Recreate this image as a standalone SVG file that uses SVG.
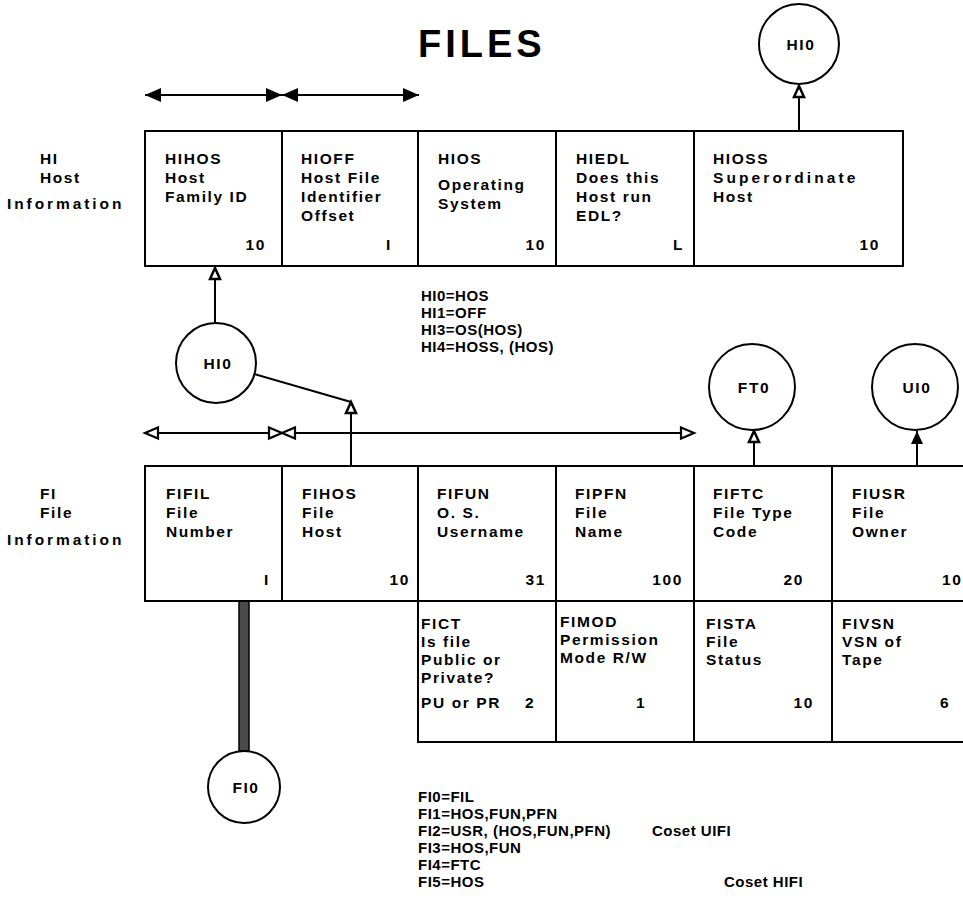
<svg xmlns="http://www.w3.org/2000/svg" width="963" height="922" viewBox="0 0 963 922">
<style>
.t{font-family:"Liberation Sans",Arial,Helvetica,sans-serif;font-weight:bold;font-size:15.5px;letter-spacing:1.6px;fill:#000}
.f{font-family:"Liberation Sans",Arial,Helvetica,sans-serif;font-weight:bold;font-size:15px;letter-spacing:0.5px;fill:#000}
.e{text-anchor:end}
.ttl{font-family:"Liberation Sans",Arial,Helvetica,sans-serif;font-weight:bold;font-size:38px;letter-spacing:4px;fill:#000}
.box{fill:#fff;stroke:#000;stroke-width:2}
.ln{stroke:#000;stroke-width:2;fill:none}
.c{fill:#fff;stroke:#000;stroke-width:2}
.m{text-anchor:middle}
</style>
<defs>
<marker id="solidL" viewBox="0 0 16 14" refX="16" refY="7" markerWidth="16" markerHeight="14" markerUnits="userSpaceOnUse" orient="auto-start-reverse"><path d="M0,0 L16,7 L0,14 z" fill="#000"/></marker>
<marker id="hollowL" viewBox="0 0 15 13" refX="14" refY="6.5" markerWidth="15" markerHeight="13" markerUnits="userSpaceOnUse" orient="auto-start-reverse" overflow="visible"><path d="M1,1 L14,6.5 L1,12 z" fill="#fff" stroke="#000" stroke-width="2.2"/></marker>
<marker id="hollowS" viewBox="0 0 13 12" refX="12" refY="6" markerWidth="13" markerHeight="12" markerUnits="userSpaceOnUse" orient="auto" overflow="visible"><path d="M1,1 L12,6 L1,11 z" fill="#fff" stroke="#000" stroke-width="2.5"/></marker>
<marker id="solidS" viewBox="0 0 13 12" refX="13" refY="6" markerWidth="13" markerHeight="12" markerUnits="userSpaceOnUse" orient="auto"><path d="M0,0 L13,6 L0,12 z" fill="#000"/></marker>
</defs>
<rect width="963" height="922" fill="#fff"/>
<text class="ttl" x="418" y="57">FILES</text>

<g id="labels">
<text class="t" x="40" y="164">HI</text>
<text class="t" x="40" y="183">Host</text>
<text class="t" x="7" y="209" textLength="116">Information</text>
<text class="t" x="40" y="499">FI</text>
<text class="t" x="40" y="518">File</text>
<text class="t" x="7" y="545" textLength="116">Information</text>
</g>

<g id="connectors">
<line class="ln" x1="145" y1="95" x2="282" y2="95" marker-start="url(#solidL)" marker-end="url(#solidL)"/>
<line class="ln" x1="282" y1="95" x2="419" y2="95" marker-start="url(#solidL)" marker-end="url(#solidL)"/>
<line class="ln" x1="799" y1="131" x2="799" y2="86" marker-end="url(#hollowS)"/>
<line class="ln" x1="215" y1="323" x2="215" y2="268" marker-end="url(#hollowS)"/>
<line class="ln" x1="351" y1="466" x2="351" y2="402" marker-end="url(#hollowS)"/>
<line class="ln" x1="351" y1="402" x2="254" y2="374"/>
<line class="ln" x1="145" y1="433" x2="282" y2="433" marker-start="url(#hollowL)" marker-end="url(#hollowL)"/>
<line class="ln" x1="282" y1="433" x2="694" y2="433" marker-start="url(#hollowL)" marker-end="url(#hollowL)"/>
<line class="ln" x1="754" y1="466" x2="754" y2="431" marker-end="url(#hollowS)"/>
<line class="ln" x1="917" y1="466" x2="917" y2="431" marker-end="url(#solidS)"/>
<rect x="239" y="601" width="10" height="150" fill="#4a4a4a" stroke="#000" stroke-width="1.5"/>
</g>

<g id="HIHOS"><rect class="box" x="145" y="131" width="137" height="135"/>
<text class="t" x="165" y="164">HIHOS</text><text class="t" x="165" y="183">Host</text><text class="t" x="165" y="202">Family ID</text><text class="t e" x="266" y="250">10</text></g>
<g id="HIOFF"><rect class="box" x="282" y="131" width="136" height="135"/>
<text class="t" x="301" y="164">HIOFF</text><text class="t" x="301" y="183">Host File</text><text class="t" x="301" y="202">Identifier</text><text class="t" x="301" y="221">Offset</text><text class="t" x="386" y="250">I</text></g>
<g id="HIOS"><rect class="box" x="418" y="131" width="138" height="135"/>
<text class="t" x="438" y="164">HIOS</text><text class="t" x="438" y="190">Operating</text><text class="t" x="438" y="209">System</text><text class="t e" x="546" y="250">10</text></g>
<g id="HIEDL"><rect class="box" x="556" y="131" width="138" height="135"/>
<text class="t" x="576" y="164">HIEDL</text><text class="t" x="576" y="183">Does this</text><text class="t" x="576" y="202">Host run</text><text class="t" x="576" y="221">EDL?</text><text class="t" x="673" y="250">L</text></g>
<g id="HIOSS"><rect class="box" x="694" y="131" width="209" height="135"/>
<text class="t" x="713" y="164">HIOSS</text><text class="t" x="713" y="183" textLength="144">Superordinate</text><text class="t" x="713" y="202">Host</text><text class="t e" x="880" y="250">10</text></g>

<g id="HIformulas">
<text class="f" x="421" y="301">HI0=HOS</text>
<text class="f" x="421" y="318">HI1=OFF</text>
<text class="f" x="421" y="335">HI3=OS(HOS)</text>
<text class="f" x="421" y="352">HI4=HOSS, (HOS)</text>
</g>

<g id="HI0top"><circle class="c" cx="799" cy="44" r="40"/><text class="t m" x="801" y="50">HI0</text></g>
<g id="HI0mid"><circle class="c" cx="216" cy="363" r="40"/><text class="t m" x="218" y="369">HI0</text></g>
<g id="FT0"><circle class="c" cx="752" cy="387" r="43"/><text class="t m" x="754" y="393">FT0</text></g>
<g id="UI0"><circle class="c" cx="915" cy="387" r="43"/><text class="t m" x="917" y="393">UI0</text></g>
<g id="FI0"><circle class="c" cx="244" cy="787" r="36"/><text class="t m" x="246" y="793">FI0</text></g>

<g id="FIFIL"><rect class="box" x="145" y="466" width="137" height="135"/>
<text class="t" x="166" y="499">FIFIL</text><text class="t" x="166" y="518">File</text><text class="t" x="166" y="537">Number</text><text class="t" x="264" y="585">I</text></g>
<g id="FIHOS"><rect class="box" x="282" y="466" width="136" height="135"/>
<text class="t" x="302" y="499">FIHOS</text><text class="t" x="302" y="518">File</text><text class="t" x="302" y="537">Host</text><text class="t e" x="410" y="585">10</text></g>
<g id="FIFUN"><rect class="box" x="418" y="466" width="138" height="135"/>
<text class="t" x="437" y="499">FIFUN</text><text class="t" x="437" y="518">O. S.</text><text class="t" x="437" y="537">Username</text><text class="t e" x="546" y="585">31</text></g>
<g id="FIPFN"><rect class="box" x="556" y="466" width="138" height="135"/>
<text class="t" x="575" y="499">FIPFN</text><text class="t" x="575" y="518">File</text><text class="t" x="575" y="537">Name</text><text class="t e" x="683" y="585">100</text></g>
<g id="FIFTC"><rect class="box" x="694" y="466" width="138" height="135"/>
<text class="t" x="713" y="499">FIFTC</text><text class="t" x="713" y="518">File Type</text><text class="t" x="713" y="537">Code</text><text class="t e" x="804" y="585">20</text></g>
<g id="FIUSR"><rect class="box" x="832" y="466" width="140" height="135"/>
<text class="t" x="852" y="499">FIUSR</text><text class="t" x="852" y="518">File</text><text class="t" x="852" y="537">Owner</text><text class="t" x="942" y="585">10</text></g>

<g id="FICT"><rect class="box" x="418" y="601" width="138" height="141"/>
<text class="t" x="421" y="629">FICT</text><text class="t" x="421" y="647">Is file</text><text class="t" x="421" y="665">Public or</text><text class="t" x="421" y="683">Private?</text><text class="t" x="421" y="708">PU or PR</text><text class="t" x="525" y="708">2</text></g>
<g id="FIMOD"><rect class="box" x="556" y="601" width="138" height="141"/>
<text class="t" x="560" y="627">FIMOD</text><text class="t" x="560" y="645">Permission</text><text class="t" x="560" y="663">Mode R/W</text><text class="t" x="636" y="708">1</text></g>
<g id="FISTA"><rect class="box" x="694" y="601" width="138" height="141"/>
<text class="t" x="706" y="629">FISTA</text><text class="t" x="706" y="647">File</text><text class="t" x="706" y="665">Status</text><text class="t e" x="814" y="708">10</text></g>
<g id="FIVSN"><rect class="box" x="832" y="601" width="140" height="141"/>
<text class="t" x="842" y="629">FIVSN</text><text class="t" x="842" y="647">VSN of</text><text class="t" x="842" y="665">Tape</text><text class="t" x="940" y="708">6</text></g>

<g id="FIformulas">
<text class="f" x="418" y="802">FI0=FIL</text>
<text class="f" x="418" y="819">FI1=HOS,FUN,PFN</text>
<text class="f" x="418" y="836">FI2=USR, (HOS,FUN,PFN)</text>
<text class="f" x="652" y="836">Coset UIFI</text>
<text class="f" x="418" y="853">FI3=HOS,FUN</text>
<text class="f" x="418" y="870">FI4=FTC</text>
<text class="f" x="418" y="887">FI5=HOS</text>
<text class="f" x="724" y="887">Coset HIFI</text>
</g>
</svg>
